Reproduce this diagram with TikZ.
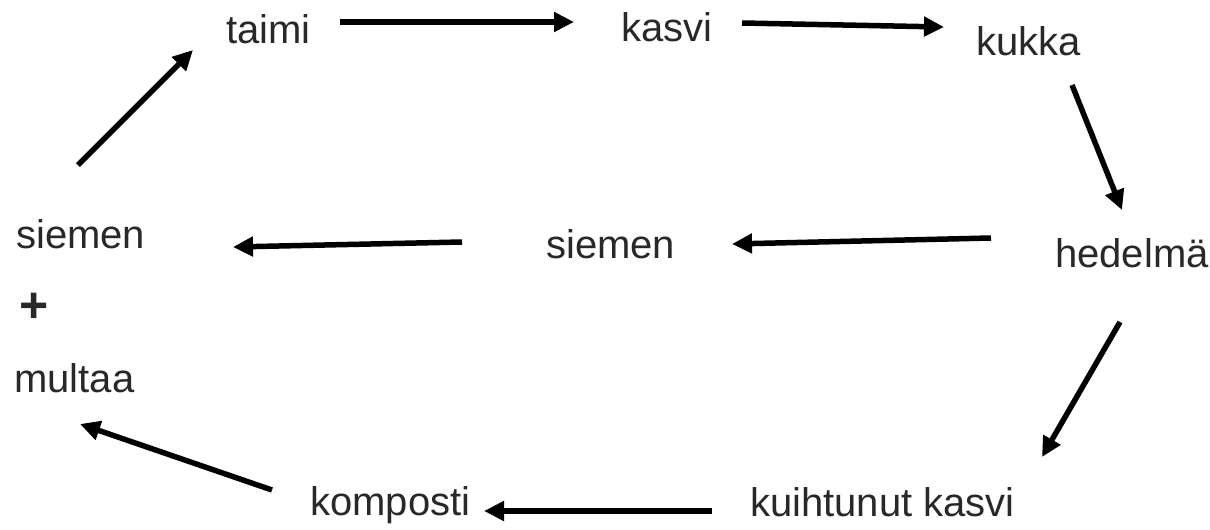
\documentclass[tikz,border=0pt]{standalone}
\usepackage{fontspec}
\setmainfont{Liberation Sans}
\usetikzlibrary{arrows.meta}
\definecolor{txt}{RGB}{40,40,40}
\tikzset{
  lbl/.style={inner sep=0pt, anchor=base west, text=txt, font=\fontsize{40}{48}\selectfont},
  arr/.style={line width=5.5pt, -{Triangle[length=20pt,width=19pt]}}
}
\begin{document}
\begin{tikzpicture}[x=1pt,y=-1pt]
\useasboundingbox (0,0) rectangle (1210,530);
\node[lbl] (taimi) at (226,43) {taimi};
\node[lbl] (kasvi) at (621,41) {kasvi};
\node[lbl] (kukka) at (976,55) {kukka};
\node[lbl] (siemenL) at (16,248) {siemen};
\node[lbl, anchor=center, font=\fontsize{50}{56}\selectfont\bfseries] (plus) at (34,308) {+};
\node[lbl] (multaa) at (14,392) {multaa};
\node[lbl] (siemenM) at (546,258) {siemen};
\node[lbl] (hedelma) at (1055,267) {hedelmä};
\node[lbl] (komposti) at (310,515) {komposti};
\node[lbl] (kuihtunut) at (750,516) {kuihtunut kasvi};
% arrow end points
\coordinate (a1s) at (78,165);   \coordinate (a1e) at (193,50);
\coordinate (a2s) at (340,22);   \coordinate (a2e) at (574,22);
\coordinate (a3s) at (742,23);   \coordinate (a3e) at (944,27);
\coordinate (a4s) at (1072,85);  \coordinate (a4e) at (1122,210);
\coordinate (a5s) at (991,238);  \coordinate (a5e) at (732,244);
\coordinate (a6s) at (462,242);  \coordinate (a6e) at (233,247);
\coordinate (a7s) at (1120,322); \coordinate (a7e) at (1042,457);
\coordinate (a8s) at (712,511);  \coordinate (a8e) at (484,511);
\coordinate (a9s) at (272,490);  \coordinate (a9e) at (80,424);
\draw[arr] (a1s) -- (a1e);
\draw[arr] (a2s) -- (a2e);
\draw[arr] (a3s) -- (a3e);
\draw[arr] (a4s) -- (a4e);
\draw[arr] (a5s) -- (a5e);
\draw[arr] (a6s) -- (a6e);
\draw[arr] (a7s) -- (a7e);
\draw[arr] (a8s) -- (a8e);
\draw[arr] (a9s) -- (a9e);
\end{tikzpicture}
\end{document}
